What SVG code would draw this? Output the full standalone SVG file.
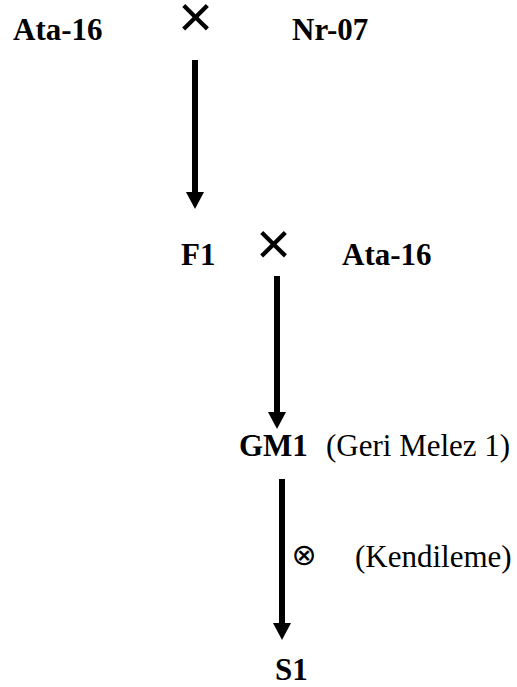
<svg xmlns="http://www.w3.org/2000/svg" width="517" height="687" viewBox="0 0 517 687">
<defs>
<style>
.b{font-family:"Liberation Serif","Times New Roman",serif;font-weight:bold;font-size:31px;fill:#000}
.r{font-family:"Liberation Serif","Times New Roman",serif;font-size:31px;fill:#000}
.x{font-family:"Liberation Sans",Arial,sans-serif;font-size:60px;fill:#000;text-anchor:middle}
.o{font-family:"DejaVu Sans",sans-serif;font-size:30px;fill:#000;text-anchor:middle}
.c{stroke:#000;stroke-width:6;fill:none}
</style>
<marker id="ah" viewBox="0 0 17 18" refX="0" refY="9" markerWidth="17" markerHeight="18" markerUnits="userSpaceOnUse" orient="auto">
<path d="M0,0 L17,9 L0,18 z" fill="#000"/>
</marker>
</defs>
<rect width="517" height="687" fill="#fff"/>
<g id="ata16-top"><text class="b" x="13" y="40">Ata-16</text></g>
<g id="cross-1"><text class="x" x="195.5" y="37">×</text></g>
<g id="nr07"><text class="b" x="292" y="40">Nr-07</text></g>
<g id="f1"><text class="b" x="181" y="265">F1</text></g>
<g id="cross-2"><text class="x" x="273.5" y="264">×</text></g>
<g id="ata16-2"><text class="b" x="342" y="265">Ata-16</text></g>
<g id="gm1"><text class="b" x="239" y="456">GM1</text><text class="r" x="326" y="456">(Geri Melez 1)</text></g>
<g id="selfing"><text class="o" x="304" y="565">⊗</text><text class="r" x="355" y="567">(Kendileme)</text></g>
<g id="s1"><text class="b" x="275" y="680">S1</text></g>
<g id="connectors">
<line class="c" x1="195" y1="60" x2="195" y2="192" marker-end="url(#ah)"/>
<line class="c" x1="277" y1="276" x2="277" y2="412" marker-end="url(#ah)"/>
<line class="c" x1="282" y1="479" x2="282" y2="623" marker-end="url(#ah)"/>
</g>
</svg>
